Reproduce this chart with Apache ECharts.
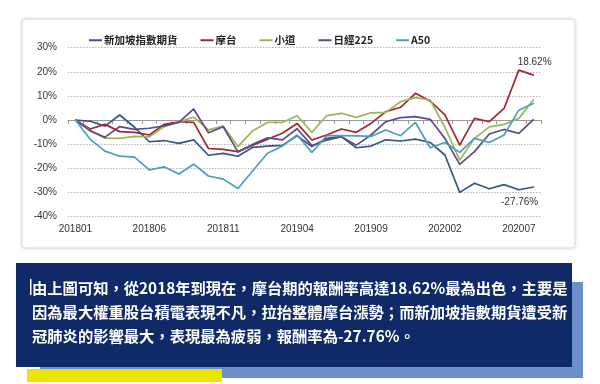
<!DOCTYPE html>
<html>
<head>
<meta charset="utf-8">
<script src="https://cdn.jsdelivr.net/npm/echarts@6/dist/echarts.min.js"></script>
<style>
html,body{margin:0;padding:0;background:#fff;}
#c{width:600px;height:384px;}
</style>
</head>
<body>
<div id="c"></div>
<script>
var categories = ['201801','201802','201803','201804','201805','201806','201807','201808','201809','201810','201811','201812',
'201901','201902','201903','201904','201905','201906','201907','201908','201909','201910','201911','201912',
'202001','202002','202003','202004','202005','202006','202007','202008'];

var singapore = [0,-0.5,-2.5,2.1,-3.0,-9.0,-8.5,-9.7,-8.2,-14.6,-13.8,-15.0,
-11.3,-10.8,-10.5,-6.5,-11.0,-7.6,-6.9,-11.5,-10.8,-8.2,-8.7,-7.9,
-9.3,-14.5,-30.0,-26.2,-28.5,-26.8,-28.9,-27.76];

var msciTaiwan = [0,-3.7,-1.8,-4.8,-5.1,-6.2,-1.8,-0.7,-1.0,-11.8,-12.2,-13.1,
-10.4,-8.0,-5.5,-1.4,-8.3,-6.2,-3.7,-5.1,-1.4,3.5,5.3,11.1,
7.9,2.1,-10.4,0.7,-0.7,4.8,20.7,18.62];

var miniDow = [0,-4.3,-7.5,-7.6,-6.8,-7.0,-2.8,-0.8,1.2,-4.1,-2.5,-11.0,
-4.4,-1.0,-1.0,1.8,-5.1,1.8,2.8,1.1,3.0,3.2,7.6,9.3,
8.3,-3.0,-16.6,-7.6,-2.8,-1.8,0.7,8.5];

var nikkei = [0,-4.5,-7.1,-2.7,-3.9,-3.4,-2.4,-1.0,4.6,-5.3,-2.8,-13.2,
-10.1,-7.4,-8.2,-3.6,-10.6,-8.3,-6.9,-10.4,-6.2,-0.7,1.0,1.4,
0.3,-7.6,-18.4,-13.1,-5.8,-3.9,-5.5,0.3];

var a50 = [0,-8.0,-12.9,-15.0,-15.4,-20.7,-19.4,-22.4,-18.3,-23.2,-24.5,-28.4,
-21.0,-13.8,-10.8,-6.2,-13.4,-6.5,-6.5,-6.6,-6.8,-4.1,-6.5,-1.0,
-11.5,-9.3,-13.4,-7.6,-9.3,-6.2,4.1,7.0];

var seriesNames = ['新加坡指數期貨','摩台','小道','日經225','A50'];
var seriesColors = ['#34568a','#a3262e','#9bb75a','#5e4b86','#4a9fba'];
var yTicks = {min:-40, max:30, interval:10};

var bodyText = '由上圖可知，從2018年到現在，摩台期的報酬率高達18.62%最為出色，主要是\n因為最大權重股台積電表現不凡，拉抬整體摩台漲勢；而新加坡指數期貨遭受新\n冠肺炎的影響最大，表現最為疲弱，報酬率為-27.76%。';

function withEndLabel(arr, pos, offset){
  return arr.map(function(v,i){
    if(i === arr.length-1 && pos){
      return {value:v, label:{show:true, position:pos, distance:5, offset:offset||[0,0],
        formatter: v.toFixed(2)+'%', color:'#333', fontSize:10, fontFamily:'Liberation Sans'}};
    }
    return v;
  });
}

var dataSets = [
  withEndLabel(singapore,'bottom',[-14,5]),
  withEndLabel(msciTaiwan,'top',[1,-2]),
  miniDow, nikkei, a50
];

var chart = echarts.init(document.getElementById('c'), null, {renderer:'canvas'});
var option = {
  animation:false,
  backgroundColor:'#ffffff',
  color: seriesColors,
  graphic:[
    {type:'rect', z:-20, shape:{x:22,y:19,width:553,height:229,r:3},
     style:{fill:'#fff', stroke:'#dcdcdc', lineWidth:1, shadowBlur:4, shadowColor:'rgba(0,0,0,0.12)'}},
    {type:'rect', z:-20, shape:{x:40,y:282,width:543,height:96},
     style:{fill:'#6b8fcb'}},
    {type:'rect', z:-19, shape:{x:16,y:263,width:556,height:104},
     style:{fill:'#0f2a66'}},
    {type:'rect', z:-18, shape:{x:27,y:369,width:195,height:13},
     style:{fill:'#e9e400'}},
    {type:'rect', z:-17, shape:{x:30,y:279,width:1.5,height:16},
     style:{fill:'#ffffff'}},
    {type:'text', z:-16, x:32, y:276,
     style:{text:bodyText, fill:'#ffffff', font:'bold 15.3px "Noto Sans CJK TC"', lineHeight:24}}
  ],
  legend:{
    top:30, left:84, itemWidth:13, itemHeight:2, itemGap:23, icon:'rect',
    textStyle:{fontSize:10.5, fontWeight:'bold', color:'#222', fontFamily:'"Noto Sans CJK TC"', padding:[0,0,0,-3]},
    data: seriesNames
  },
  grid:{left:68, right:59, top:47.7, bottom:167.5, containLabel:false},
  xAxis:{
    type:'category', data:categories, boundaryGap:true,
    axisLine:{lineStyle:{color:'#999', width:1}},
    axisTick:{show:true, interval:0, length:4, lineStyle:{color:'#999'}},
    axisLabel:{interval:4, color:'#333', fontSize:10, fontFamily:'Liberation Sans', margin:8}
  },
  yAxis:{
    type:'value', min:yTicks.min, max:yTicks.max, interval:yTicks.interval,
    axisLine:{show:false}, axisTick:{show:false},
    axisLabel:{formatter:'{value}%', color:'#333', fontSize:10, fontFamily:'Liberation Sans', margin:11},
    splitLine:{lineStyle:{color:'#b5b5b5', type:[1.5,1.5], width:1}}
  },
  series: seriesNames.map(function(n,i){
    return {name:n, type:'line', data:dataSets[i], symbol:'circle', symbolSize:1, showSymbol:true,
      lineStyle:{width:1.7, color:seriesColors[i]}, itemStyle:{color:seriesColors[i]}, z:2+i};
  })
};
chart.setOption(option);
</script>
</body>
</html>
